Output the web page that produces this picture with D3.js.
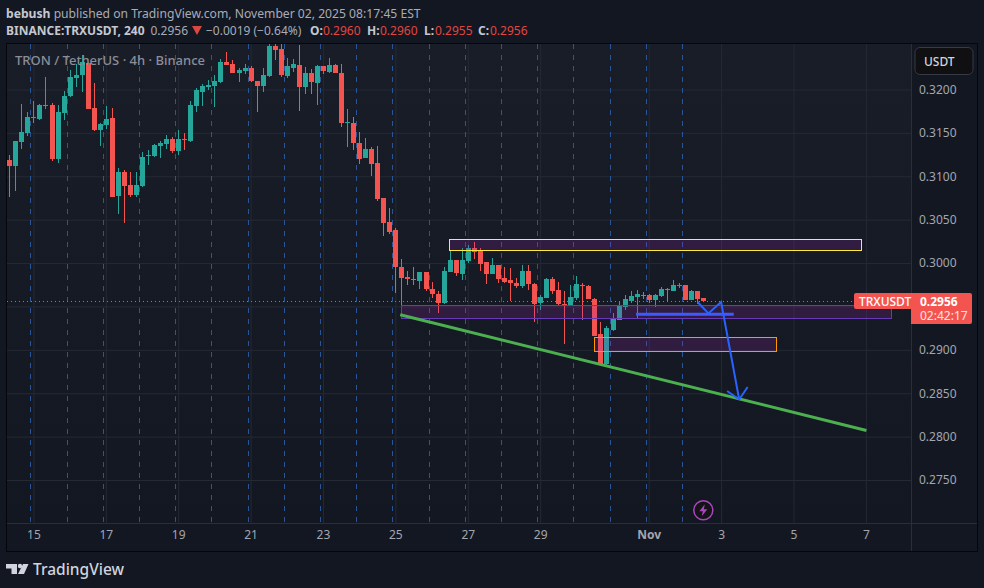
<!DOCTYPE html>
<html>
<head>
<meta charset="utf-8">
<script src="https://cdn.jsdelivr.net/npm/d3@7"></script>
<style>
    html, body { margin: 0; padding: 0; background: #131722; }
    svg { display: block; }
    text { font-family: "Noto Sans", sans-serif; }
    .axis text { fill: #a3a6af; font-size: 12px; font-family: "Noto Sans", sans-serif; }
    .axis .domain { display: none; }
    .grid line { stroke: #252933; }
    .grid text { display: none; }
    .grid .domain { display: none; }
</style>
</head>
<body>
<svg id="chart" width="984" height="588"></svg>
<script>
// 4h candles, index 0 is the first bar on screen. Values in 1/10000 USDT
var opens = [3119,3112,3139,3150,3167,3166,3181,3182,3120,3173,3192,3213,3217,3230,3179,3153,3159,3167,3077,3105,
    3090,3079,3089,3123,3123,3135,3137,3143,3129,3143,3141,3181,3197,3203,3204,3209,3232,3229,3219,3221,
    3225,3210,3204,3215,3250,3247,3215,3225,3228,3203,3219,3207,3227,3220,3228,3219,3161,3161,3138,3121,
    3131,3115,3075,3047,3038,2995,2984,2982,2979,2990,2970,2964,2954,2990,3004,2987,3002,3017,3014,3001,
    2987,2998,2983,2980,2977,2974,2991,2976,2954,2960,2982,2969,2953,2950,2960,2975,2974,2959,2918,2884,
    2923,2934,2949,2956,2961,2963,2963,2957,2962,2970,2968,2974,2975,2957,2968,2960];
var highs = [3124,3141,3183,3174,3187,3183,3214,3184,3182,3198,3222,3229,3240,3232,3207,3161,3181,3179,3109,3107,
    3105,3105,3128,3130,3137,3141,3147,3145,3153,3150,3187,3202,3206,3211,3217,3235,3243,3234,3225,3229,
    3227,3210,3225,3252,3252,3252,3236,3235,3251,3226,3224,3228,3227,3236,3229,3229,3177,3168,3151,3144,
    3134,3135,3075,3064,3040,3005,2991,2995,2990,2990,2978,2968,2995,3015,3004,3017,3021,3024,3017,3001,
    3006,2998,2995,2994,2983,2998,2998,2977,2963,2983,2984,2978,2968,2975,2985,2977,2975,2960,2932,2927,
    2942,2956,2963,2968,2969,2967,2964,2964,2972,2971,2980,2977,2975,2969,2968,2960];
var lows = [3076,3083,3132,3146,3161,3165,3177,3118,3115,3165,3191,3203,3197,3177,3152,3135,3155,3076,3056,3046,
    3076,3076,3088,3113,3122,3121,3131,3127,3124,3130,3139,3174,3181,3199,3180,3207,3228,3219,3209,3218,
    3209,3174,3197,3214,3234,3214,3213,3220,3175,3195,3195,3182,3218,3219,3219,3157,3134,3130,3114,3121,
    3100,3071,3031,3033,2965,2938,2975,2975,2970,2968,2960,2942,2953,2990,2985,2980,3000,3005,2991,2976,
    2987,2977,2977,2956,2971,2971,2969,2932,2946,2960,2964,2950,2907,2950,2957,2934,2959,2916,2884,2881,
    2922,2934,2946,2954,2937,2959,2954,2949,2961,2956,2968,2971,2957,2957,2953,2955];
var closes = [3112,3141,3151,3168,3168,3182,3182,3120,3174,3192,3214,3217,3232,3177,3153,3160,3166,3076,3105,3089,
    3078,3090,3122,3124,3136,3138,3143,3129,3143,3142,3182,3199,3204,3205,3210,3232,3228,3219,3222,3225,
    3210,3204,3217,3250,3245,3217,3227,3229,3203,3219,3209,3227,3221,3228,3219,3161,3162,3138,3120,3132,
    3114,3074,3046,3036,2995,2983,2982,2981,2990,2970,2964,2954,2991,3004,2989,3004,3017,3013,2999,2987,
    2998,2982,2978,2977,2974,2991,2976,2953,2961,2982,2968,2953,2952,2961,2976,2973,2959,2916,2884,2925,
    2935,2950,2959,2962,2964,2962,2957,2963,2970,2969,2975,2975,2957,2968,2959,2956];

var priceTicks = [0.32, 0.315, 0.31, 0.305, 0.30, 0.295, 0.29, 0.285, 0.28, 0.275];
var priceLabels = ["0.3200", "0.3150", "0.3100", "0.3050", "0.3000", "", "0.2900", "0.2850", "0.2800", "0.2750"];
var timeTicks = [4, 16, 28, 40, 52, 64, 76, 88, 106, 118, 130, 142];
var timeLabels = ["15", "17", "19", "21", "23", "25", "27", "29", "Nov", "3", "5", "7"];
var daySeparators = [3.5,9.5,15.5,21.5,27.5,33.5,39.5,45.5,51.5,57.5,63.5,69.5,75.5,81.5,87.5,93.5,99.5,105.5,111.5];
var lastPrice = 0.2956;

// drawings: index/price pairs
var yellowBox = [72.9, 141.2, 0.30274, 0.30145];
var purpleBox = [65.0, 146.2, 0.29513, 0.29363];
var orangeBox = [97.0, 127.2, 0.29144, 0.28983];
var trendLine = [[64.8, 0.29405], [142.1, 0.28071]];
var levelLine = [[103.9, 0.29410], [120.1, 0.29410]];
var arrowPath = [[114.1, 0.29551], [115.9, 0.29419], [118.0, 0.29551], [121.0, 0.28428]];
var arrowHead = [[119.0, 0.28526], [121.0, 0.28428], [122.4, 0.28572]];

var W = 984, H = 588;
var pane = { left: 7, top: 44, right: 911, bottom: 523, outerRight: 977, outerBottom: 551 };

var UP = "#26a69a", DOWN = "#f4544f";

var svg = d3.select("#chart");

var x = d3.scaleLinear().domain([0, 115]).range([9.3, 703]);
var y = d3.scaleLinear().domain([0.32, 0.275]).range([89.5, 480]);

var defs = svg.append("defs");
var grad = defs.append("linearGradient")
    .attr("id", "paneBg")
    .attr("x1", 0).attr("x2", 0).attr("y1", 0).attr("y2", 1);
grad.append("stop").attr("offset", "0%").attr("stop-color", "#191d28");
grad.append("stop").attr("offset", "100%").attr("stop-color", "#131722");

defs.append("clipPath").attr("id", "paneClip")
    .append("rect")
    .attr("x", pane.left).attr("y", pane.top)
    .attr("width", pane.right - pane.left)
    .attr("height", pane.bottom - pane.top);

svg.append("rect").attr("width", W).attr("height", H).attr("fill", "#131722");

svg.append("rect")
    .attr("x", pane.left).attr("y", pane.top)
    .attr("width", pane.right - pane.left)
    .attr("height", pane.bottom - pane.top)
    .attr("fill", "url(#paneBg)");

// grid
svg.append("g")
    .attr("class", "grid")
    .attr("transform", "translate(" + pane.right + ",0)")
    .call(d3.axisLeft(y).tickValues(priceTicks).tickSize(pane.right - pane.left).tickFormat(""));

svg.append("g")
    .attr("class", "grid")
    .attr("transform", "translate(0," + pane.bottom + ")")
    .call(d3.axisTop(x).tickValues(timeTicks).tickSize(pane.bottom - pane.top).tickFormat(""));

var plot = svg.append("g").attr("clip-path", "url(#paneClip)");

// day separators
plot.selectAll(".sep")
    .data(daySeparators)
    .enter()
    .append("line")
    .attr("class", "sep")
    .attr("x1", function(d) { return Math.round(x(d)) + 0.5; })
    .attr("x2", function(d) { return Math.round(x(d)) + 0.5; })
    .attr("y1", pane.top)
    .attr("y2", pane.bottom)
    .attr("stroke", "#2b5596")
    .attr("stroke-width", 1)
    .attr("stroke-dasharray", "5 6");

// last price line
plot.append("line")
    .attr("x1", pane.left).attr("x2", pane.right)
    .attr("y1", Math.round(y(lastPrice)) + 0.5)
    .attr("y2", Math.round(y(lastPrice)) + 0.5)
    .attr("stroke", "#f4544f")
    .attr("stroke-dasharray", "1 3");

// candles
var candles = opens.map(function(o, i) {
    return { i: i, o: o / 10000, h: highs[i] / 10000, l: lows[i] / 10000, c: closes[i] / 10000 };
});

function candleColor(d) { return d.c >= d.o ? UP : DOWN; }

plot.selectAll(".wick")
    .data(candles)
    .enter()
    .append("rect")
    .attr("class", "wick")
    .attr("x", function(d) { return Math.round(x(d.i)); })
    .attr("y", function(d) { return Math.round(y(d.h)); })
    .attr("width", 1)
    .attr("height", function(d) { return Math.max(1, Math.round(y(d.l)) - Math.round(y(d.h))); })
    .attr("fill", candleColor);

plot.selectAll(".body")
    .data(candles)
    .enter()
    .append("rect")
    .attr("class", "body")
    .attr("x", function(d) { return Math.round(x(d.i)) - 2; })
    .attr("y", function(d) { return Math.round(y(Math.max(d.o, d.c))); })
    .attr("width", 5)
    .attr("height", function(d) { return Math.max(1, Math.round(y(Math.min(d.o, d.c))) - Math.round(y(Math.max(d.o, d.c)))); })
    .attr("fill", candleColor);

// boxes
function drawBox(b, color) {
    plot.append("rect")
        .attr("x", Math.round(x(b[0])) + 0.5)
        .attr("y", Math.round(y(b[2])) + 0.5)
        .attr("width", Math.round(x(b[1]) - x(b[0])))
        .attr("height", Math.round(y(b[3]) - y(b[2])))
        .attr("fill", "rgba(156,39,176,0.2)")
        .attr("stroke", color)
        .attr("stroke-width", 1);
}
drawBox(yellowBox, "#ffeb3b");
drawBox(purpleBox, "#673ab7");
drawBox(orangeBox, "#ff9800");

// hand drawn lines
var line = d3.line()
    .x(function(d) { return x(d[0]); })
    .y(function(d) { return y(d[1]); });

plot.append("path")
    .attr("d", line(trendLine))
    .attr("fill", "none")
    .attr("stroke", "#4caf50")
    .attr("stroke-width", 3);

plot.append("path")
    .attr("d", line(levelLine))
    .attr("fill", "none")
    .attr("stroke", "#3d5afe")
    .attr("stroke-width", 3);

plot.selectAll(".arrow")
    .data([arrowPath, arrowHead])
    .enter()
    .append("path")
    .attr("class", "arrow")
    .attr("d", line)
    .attr("fill", "none")
    .attr("stroke", "#2962ff")
    .attr("stroke-width", 2);

// symbol title on the pane
svg.append("text")
    .attr("x", 15).attr("y", 65)
    .attr("font-size", 13)
    .attr("font-weight", 500)
    .attr("fill", "#8b8e98")
    .text("TRON / TetherUS · 4h · Binance");

// lightning marker
var bolt = svg.append("g").attr("transform", "translate(703.3,510.3)");
bolt.append("circle")
    .attr("r", 9.5)
    .attr("fill", "#131318")
    .attr("stroke", "#ab47bc")
    .attr("stroke-width", 1.5);
bolt.append("path")
    .attr("d", "M1.5,-6 L-4,1 L-0.5,1 L-1.5,6 L4,-1 L0.5,-1 Z")
    .attr("fill", "#ab47bc");

// axes
svg.append("g")
    .attr("class", "axis")
    .attr("transform", "translate(" + (pane.right + 8) + ",0)")
    .call(d3.axisRight(y).tickValues(priceTicks).tickSize(0).tickPadding(0)
        .tickFormat(function(d, i) { return priceLabels[i]; }));

svg.append("g")
    .attr("class", "axis time")
    .attr("transform", "translate(0," + (pane.bottom + 7) + ")")
    .call(d3.axisBottom(x).tickValues(timeTicks).tickSize(0).tickPadding(0)
        .tickFormat(function(d, i) { return timeLabels[i]; }));

svg.selectAll(".time text")
    .style("font-weight", function(d, i) { return timeLabels[i] === "Nov" ? 700 : 400; });

// frame and axis separators
svg.append("line").attr("x1", pane.right + 0.5).attr("x2", pane.right + 0.5)
    .attr("y1", pane.top).attr("y2", pane.outerBottom).attr("stroke", "#2a2e39");
svg.append("line").attr("x1", pane.left).attr("x2", pane.outerRight)
    .attr("y1", pane.bottom + 0.5).attr("y2", pane.bottom + 0.5).attr("stroke", "#2a2e39");
svg.append("rect")
    .attr("x", pane.left - 0.5).attr("y", pane.top - 0.5)
    .attr("width", pane.outerRight - pane.left + 1)
    .attr("height", pane.outerBottom - pane.top + 1)
    .attr("fill", "none")
    .attr("stroke", "#05060a");

// currency button
svg.append("rect")
    .attr("x", 915).attr("y", 47.5)
    .attr("width", 58).attr("height", 27)
    .attr("rx", 5)
    .attr("fill", "#101013")
    .attr("stroke", "#363a45");
svg.append("text")
    .attr("x", 924).attr("y", 66)
    .attr("font-size", 12)
    .attr("font-weight", 500)
    .attr("fill", "#d1d4dc")
    .text("USDT");

// last price labels
svg.append("path")
    .attr("d", "M911,293 H970 Q972,293 972,295 V322 Q972,324 970,324 H911 Z")
    .attr("fill", DOWN);
svg.append("path")
    .attr("d", "M911,293 H856 Q854,293 854,295 V307 Q854,309 856,309 H911 Z")
    .attr("fill", DOWN);
svg.append("text").attr("x", 859).attr("y", 306).attr("font-size", 12).attr("font-weight", 500)
    .attr("fill", "#fff").text("TRXUSDT");
svg.append("text").attr("x", 920).attr("y", 306).attr("font-size", 12).attr("font-weight", 700)
    .attr("fill", "#fff").text("0.2956");
svg.append("text").attr("x", 920).attr("y", 320).attr("font-size", 12)
    .attr("fill", "#fde3e2").text("02:42:17");

// header lines
var head1 = svg.append("text").attr("x", 6).attr("y", 17.5).attr("font-size", 12.15).attr("fill", "#a9acb6");
head1.append("tspan").attr("font-weight", 700).attr("fill", "#c5c8d0").text("bebush");
head1.append("tspan").text(" published on TradingView.com, November 02, 2025 08:17:45 EST");

var head2 = svg.append("text").attr("x", 6).attr("y", 34.5).attr("font-size", 12).attr("fill", "#a9acb6");
head2.append("tspan").attr("font-weight", 700).attr("fill", "#c5c8d0").text("BINANCE:TRXUSDT, 240");
head2.append("tspan").attr("x", 150.5).text("0.2956");
head2.append("tspan").attr("x", 206).text("−0.0019 (−0.64%)");
svg.append("path").attr("d", "M192,26 H202 L197,35 Z").attr("fill", "#d9483f");

var ohlc = [["O:", "0.2960", 310, 323], ["H:", "0.2960", 367, 380], ["L:", "0.2955", 424, 435], ["C:", "0.2956", 478, 490]];
ohlc.forEach(function(d) {
    var t = svg.append("text").attr("y", 34.5).attr("font-size", 12);
    t.append("tspan").attr("x", d[2]).attr("font-weight", 700).attr("fill", "#c5c8d0").text(d[0]);
    t.append("tspan").attr("x", d[3]).attr("fill", "#e2463f").text(d[1]);
});

// logo
var logo = svg.append("g").attr("fill", "#d1d4dc");
logo.append("path").attr("d", "M6,564 H17 V574 H11.5 V568.5 H6 Z");
logo.append("circle").attr("cx", 20).attr("cy", 566).attr("r", 2.2);
logo.append("path").attr("d", "M23,564 H28.5 L24,574 H18 Z");
svg.append("text")
    .attr("x", 33).attr("y", 574.5)
    .attr("font-size", 15.5)
    .attr("font-weight", 500)
    .attr("fill", "#d1d4dc")
    .text("TradingView");
</script>
</body>
</html>
